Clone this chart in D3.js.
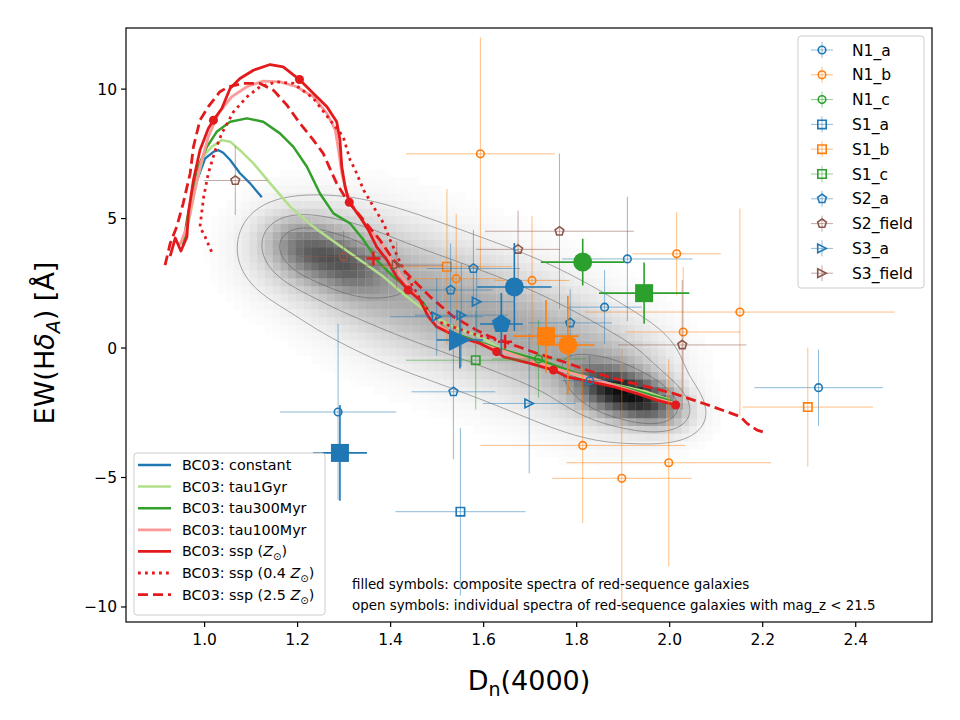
<!DOCTYPE html>
<html><head><meta charset="utf-8">
<script src="https://cdn.jsdelivr.net/npm/d3@7"></script>
<style>body{margin:0;background:#fff} svg{display:block} text{font-family:"DejaVu Sans",sans-serif}</style>
</head><body><svg id="c" width="960" height="720"></svg>
<script>
// ---------------- DATA ----------------
const xTicks = [1.0, 1.2, 1.4, 1.6, 1.8, 2.0, 2.2, 2.4];
const yTicks = [-10, -5, 0, 5, 10];

// BC03 model tracks (Dn4000, EW(HdA))
const constD = [0.954,0.965,0.980,1.001,1.019,1.030,1.040,1.055,1.076,1.098,1.123];
const constEW = [3.98,4.94,6.29,7.32,7.58,7.64,7.54,7.26,6.75,6.36,5.82];
const tau1D = [0.954,0.969,0.984,0.997,1.015,1.037,1.055,1.076,1.105,1.141,1.184,1.234,1.284,1.334,1.385,1.435,1.492,1.535,1.592,1.643,1.714,1.779,1.829,1.886,1.951,2.001];
const tau1EW = [3.98,5.14,6.49,7.39,7.77,8.03,7.97,7.64,7.13,6.36,5.46,4.68,4.04,3.40,2.75,1.98,1.21,0.82,0.44,-0.08,-0.40,-0.92,-1.24,-1.43,-1.69,-2.01];
const tau300D = [0.954,0.962,0.983,1.005,1.026,1.055,1.091,1.126,1.162,1.191,1.220,1.248,1.277,1.313,1.342,1.370,1.406,1.442,1.471,1.492,1.528,1.592,1.635,1.721,1.829,1.937,2.005];
const tau300EW = [3.98,4.94,6.87,7.77,8.35,8.74,8.87,8.74,8.29,7.77,7.00,5.97,5.20,4.81,4.17,3.40,2.75,2.24,1.73,1.08,0.62,0.23,-0.04,-0.46,-1.16,-1.70,-2.05];
const tau100D = [0.947,0.962,0.976,0.990,1.008,1.030,1.058,1.091,1.126,1.162,1.198,1.234,1.263,1.281,1.288,1.295,1.306,1.327,1.356,1.385,1.413,1.442,1.481,1.506,1.549,1.635,1.749,1.851,1.958,2.005];
const tau100EW = [3.98,4.68,5.84,7.00,8.16,9.06,9.70,10.09,10.31,10.28,10.09,9.70,9.06,8.42,7.64,6.75,5.97,5.20,4.56,3.91,3.01,2.32,1.35,0.85,0.42,-0.08,-0.77,-1.27,-1.89,-2.12];
const sspD = [0.926,0.937,0.949,0.962,0.965,0.976,0.990,1.008,1.019,1.037,1.055,1.076,1.105,1.141,1.169,1.204,1.234,1.263,1.284,1.291,1.295,1.302,1.311,1.334,1.352,1.370,1.392,1.413,1.438,1.463,1.481,1.499,1.535,1.592,1.628,1.643,1.700,1.750,1.779,1.829,1.879,1.929,1.972,2.013];
const sspEW = [3.55,4.25,3.75,4.29,5.20,6.49,7.64,8.48,8.80,9.25,10.03,10.41,10.73,10.95,10.86,10.37,9.83,9.32,8.74,8.03,7.00,6.23,5.63,5.07,4.56,3.91,3.40,2.75,2.24,1.85,1.21,0.82,0.50,0.18,-0.14,-0.34,-0.59,-0.85,-1.11,-1.30,-1.49,-1.75,-2.01,-2.20];
const sspAgeD = [1.019,1.204,1.311,1.438,1.628,1.750,2.013];
const sspAgeEW = [8.80,10.37,5.63,2.24,-0.14,-0.85,-2.20];
const ssp04D = [1.015,1.001,0.990,0.998,1.008,1.023,1.037,1.062,1.091,1.119,1.155,1.191,1.234,1.270,1.298,1.313,1.324,1.342,1.363,1.385,1.399,1.420,1.446,1.471,1.506,1.571,1.646];
const ssp04EW = [3.72,4.30,4.68,5.84,6.75,7.64,8.29,9.12,9.70,10.09,10.28,10.22,9.64,8.80,8.16,7.26,6.87,6.10,5.46,4.81,4.17,3.32,2.43,1.66,1.00,0.58,0.23];
const ssp04AgeD = [1.363,1.646];
const ssp04AgeEW = [3.46,0.24];
const ssp25D = [0.915,0.926,0.940,0.954,0.969,0.976,0.990,1.008,1.033,1.051,1.083,1.119,1.148,1.177,1.205,1.234,1.255,1.274,1.284,1.306,1.342,1.377,1.406,1.442,1.485,1.535,1.585,1.614,1.664,1.714,1.772,1.822,1.879,1.951,2.008,2.073,2.123,2.152,2.166,2.188,2.209];
const ssp25EW = [3.20,4.04,4.68,5.59,6.75,7.77,8.80,9.32,9.90,10.09,10.22,10.22,9.96,9.38,8.68,8.03,7.52,6.75,6.36,5.71,4.94,4.17,3.40,2.75,1.98,1.21,0.69,0.44,0.12,-0.20,-0.53,-0.85,-1.17,-1.49,-1.75,-2.14,-2.46,-2.65,-2.91,-3.17,-3.29];

// individual galaxies (open symbols)
const N1a_D = [1.287,1.909,1.860,1.828,2.320];
const N1a_EW = [-2.47,3.44,1.58,-1.26,-1.53];
const N1a_xe = [0.125,0.14,0.08,0.06,0.138];
const N1a_ye = [3.4,2.4,1.43,1.0,1.47];
const N1b_D = [1.593,2.015,2.151,2.029,1.704,1.541,1.813,1.998,1.897];
const N1b_EW = [7.50,3.64,1.39,0.62,2.61,2.68,-3.76,-4.43,-5.03];
const N1b_xe = [0.16,0.095,0.333,0.123,0.08,0.1,0.22,0.22,0.15];
const N1b_ye = [4.5,1.6,4.0,2.5,2.5,2.5,3.0,4.0,5.0];
const N1c_D = [1.718], N1c_EW = [-0.42], N1c_xe = [0.1], N1c_ye = [1.5];
const S1a_D = [1.550], S1a_EW = [-6.32], S1a_xe = [0.14], S1a_ye = [3.24];
const S1b_D = [1.521,2.297], S1b_EW = [3.14,-2.28], S1b_xe = [0.14,0.14], S1b_ye = [3.0,2.3];
const S1c_D = [1.583], S1c_EW = [-0.47], S1c_xe = [0.15], S1c_ye = [1.9];
const S2a_D = [1.578,1.529,1.786,1.535];
const S2a_EW = [3.07,2.24,0.97,-1.69];
const S2a_xe = [0.1,0.09,0.09,0.09];
const S2a_ye = [1.5,1.8,1.3,2.6];
const S2f_D = [1.066,1.299,1.674,1.763,2.027];
const S2f_EW = [6.47,3.53,3.81,4.51,0.12];
const S2f_xe = [0.068,0.092,0.09,0.16,0.138];
const S2f_ye = [1.33,1.0,1.5,3.0,2.5];
const S3a_D = [1.499,1.552,1.585,1.698];
const S3a_EW = [1.21,1.27,1.79,-2.14];
const S3a_xe = [0.1,0.1,0.08,0.1];
const S3a_ye = [1.5,2.0,1.2,2.7];
const S3f_D = [1.413], S3f_EW = [3.20], S3f_xe = [0.1], S3f_ye = [0.9];

// composite spectra (filled symbols)
const compSeries = ["N1_a","N1_b","N1_c","S1_a","S1_b","S1_c","S2_a","S3_a"];
const compD = [1.666,1.781,1.813,1.291,1.734,1.945,1.638,1.549];
const compEW = [2.36,0.12,3.32,-4.05,0.46,2.12,0.93,0.31];
const compXe = [0.08,0.057,0.09,0.058,0.07,0.097,0.046,0.05];
const compYe = [1.7,1.9,0.9,1.85,1.4,1.18,1.2,1.1];

// SDSS background density, described by components
const densD   = [1.20,1.30,1.40,1.50,1.60,1.70,1.80,1.90, 1.22,1.31, 1.87,1.95];
const densEW  = [3.80,3.15,2.45,1.80,1.15,0.45,-0.40,-1.20, 3.80,3.20, -1.60,-2.05];
const densSD  = [0.07,0.07,0.07,0.07,0.07,0.07,0.07,0.07, 0.05,0.05, 0.05,0.05];
const densSE  = [1.05,1.3,1.4,1.4,1.4,1.4,1.35,1.2, 0.7,0.7, 0.6,0.6];
const densRho = [0,0,0,0,0,0,0,0, -0.3,-0.3, -0.3,-0.3];
const densW   = [0.16,0.17,0.17,0.17,0.17,0.17,0.17,0.17, 0.30,0.30, 0.55,0.60];
const contourLevels = [0.03,0.13,0.30];

const seriesNames = ["N1_a","N1_b","N1_c","S1_a","S1_b","S1_c","S2_a","S2_field","S3_a","S3_field"];
const modelNames = ["BC03: constant","BC03: tau1Gyr","BC03: tau300Myr","BC03: tau100Myr","BC03: ssp (Z⊙)","BC03: ssp (0.4 Z⊙)","BC03: ssp (2.5 Z⊙)"];

// ---------------- STYLE ----------------
const seriesStyle = {
  "N1_a":{c:"#1f77b4",m:"circle"}, "N1_b":{c:"#ff7f0e",m:"circle"}, "N1_c":{c:"#2ca02c",m:"circle"},
  "S1_a":{c:"#1f77b4",m:"square"}, "S1_b":{c:"#ff7f0e",m:"square"}, "S1_c":{c:"#2ca02c",m:"square"},
  "S2_a":{c:"#1f77b4",m:"pentagon"}, "S2_field":{c:"#8c564b",m:"pentagon"},
  "S3_a":{c:"#1f77b4",m:"triangle"}, "S3_field":{c:"#8c564b",m:"triangle"}
};
const seriesData = {
  "N1_a":[N1a_D,N1a_EW,N1a_xe,N1a_ye], "N1_b":[N1b_D,N1b_EW,N1b_xe,N1b_ye], "N1_c":[N1c_D,N1c_EW,N1c_xe,N1c_ye],
  "S1_a":[S1a_D,S1a_EW,S1a_xe,S1a_ye], "S1_b":[S1b_D,S1b_EW,S1b_xe,S1b_ye], "S1_c":[S1c_D,S1c_EW,S1c_xe,S1c_ye],
  "S2_a":[S2a_D,S2a_EW,S2a_xe,S2a_ye], "S2_field":[S2f_D,S2f_EW,S2f_xe,S2f_ye],
  "S3_a":[S3a_D,S3a_EW,S3a_xe,S3a_ye], "S3_field":[S3f_D,S3f_EW,S3f_xe,S3f_ye]
};
const models = [
  {D:constD,E:constEW,c:"#1f78b4",w:2.3,dash:null},
  {D:tau1D,E:tau1EW,c:"#b2df8a",w:2.5,dash:null},
  {D:tau300D,E:tau300EW,c:"#33a02c",w:2.5,dash:null},
  {D:tau100D,E:tau100EW,c:"#fb9a99",w:2.8,dash:null},
  {D:sspD,E:sspEW,c:"#e31a1c",w:2.8,dash:null},
  {D:ssp04D,E:ssp04EW,c:"#e31a1c",w:2.8,dash:"2.8,4.2"},
  {D:ssp25D,E:ssp25EW,c:"#e31a1c",w:2.8,dash:"10,5"}
];

// ---------------- LAYOUT ----------------
const L=126,R=932,T=28,B=622;
const x = d3.scaleLinear().domain([0.831,2.564]).range([L,R]);
const y = d3.scaleLinear().domain([-10.58,12.36]).range([B,T]);
const svg = d3.select("#c");
svg.append("defs").append("clipPath").attr("id","clip").append("rect").attr("x",L).attr("y",T).attr("width",R-L).attr("height",B-T);
const plot = svg.append("g").attr("clip-path","url(#clip)");

// density
function dens(D,E){
  let s=0;
  for(let k=0;k<densD.length;k++){
    const zx=(D-densD[k])/densSD[k], zy=(E-densEW[k])/densSE[k], r=densRho[k];
    s+=densW[k]*Math.exp(-0.5*(zx*zx-2*r*zx*zy+zy*zy)/(1-r*r));
  }
  return s;
}
const binD=0.0166, binE=0.3;
const cells=[];
let vmax=0;
for(let D=0.98; D<2.3; D+=binD){
  for(let E=-6; E<8; E+=binE){
    const v=dens(D+binD/2,E+binE/2);
    cells.push({D,E,v}); if(v>vmax) vmax=v;
  }
}
plot.append("g").selectAll("rect").data(cells.filter(c=>c.v/vmax>0.003)).join("rect")
  .attr("x",d=>x(d.D)).attr("y",d=>y(d.E+binE))
  .attr("width",d=>x(d.D+binD)-x(d.D)+0.3).attr("height",d=>y(d.E)-y(d.E+binE)+0.3)
  .attr("fill",d=>{const t=Math.pow(d.v/vmax,0.8); const g=Math.round(255*(1-0.95*t)); return `rgb(${g},${g},${g})`;});

// contours
const step=2, nx=Math.ceil((R-L)/step), ny=Math.ceil((B-T)/step);
const grid=new Float64Array(nx*ny);
for(let j=0;j<ny;j++) for(let i=0;i<nx;i++) grid[j*nx+i]=dens(x.invert(L+i*step),y.invert(T+j*step))/vmax;
const cont=d3.contours().size([nx,ny]).thresholds(contourLevels)(grid);
const proj=d3.geoTransform({point(px,py){this.stream.point(L+px*step,T+py*step);}});
plot.append("g").selectAll("path").data(cont).join("path").attr("d",d3.geoPath(proj))
  .attr("fill","none").attr("stroke","#555").attr("stroke-width",0.6).attr("stroke-opacity",0.85);

// model curves
models.forEach(m=>{
  const pts=m.D.map((d,i)=>[d,m.E[i]]);
  plot.append("path").datum(pts).attr("d",d3.line().x(d=>x(d[0])).y(d=>y(d[1])))
    .attr("fill","none").attr("stroke",m.c).attr("stroke-width",m.w).attr("stroke-linejoin","round")
    .attr("stroke-dasharray",m.dash);
});
plot.append("g").selectAll("circle").data(sspAgeD.map((d,i)=>[d,sspAgeEW[i]])).join("circle")
  .attr("cx",d=>x(d[0])).attr("cy",d=>y(d[1])).attr("r",4.5).attr("fill","#e31a1c");
ssp04AgeD.forEach((d,i)=>{
  const cx=x(d), cy=y(ssp04AgeEW[i]);
  plot.append("path").attr("d",`M${cx-7},${cy}H${cx+7}M${cx},${cy-7}V${cy+7}`).attr("stroke","#e31a1c").attr("stroke-width",2.5);
});

// markers
function markerPath(type,r){
  if(type==="circle") return `M${r},0A${r},${r} 0 1,1 ${-r},0A${r},${r} 0 1,1 ${r},0Z`;
  if(type==="square") return `M${-r},${-r}H${r}V${r}H${-r}Z`;
  if(type==="pentagon"){ let p=""; for(let k=0;k<5;k++){const a=(-90+72*k)*Math.PI/180; p+=(k?"L":"M")+(r*Math.cos(a)).toFixed(2)+","+(r*Math.sin(a)).toFixed(2);} return p+"Z"; }
  if(type==="triangle") return `M${r},0L${-r},${-r}L${-r},${r}Z`;
}
const openR={circle:3.8,square:4.2,pentagon:4.6,triangle:4.3};
const fillR={circle:9.5,square:9,pentagon:10,triangle:11};

seriesNames.forEach(name=>{
  const st=seriesStyle[name], [Ds,Es,xe,ye]=seriesData[name];
  const g=plot.append("g");
  Ds.forEach((d,i)=>{
    const cx=x(d), cy=y(Es[i]);
    g.append("path").attr("d",`M${x(d-xe[i])},${cy}H${x(d+xe[i])}M${cx},${y(Es[i]+ye[i])}V${y(Es[i]-ye[i])}`)
      .attr("stroke",st.c).attr("stroke-width",1).attr("stroke-opacity",0.5);
  });
  Ds.forEach((d,i)=>{
    g.append("path").attr("d",markerPath(st.m,openR[st.m])).attr("transform",`translate(${x(d)},${y(Es[i])})`)
      .attr("fill","none").attr("stroke",st.c).attr("stroke-width",1.6);
  });
});
compSeries.forEach((name,i)=>{
  const st=seriesStyle[name], cx=x(compD[i]), cy=y(compEW[i]);
  plot.append("path").attr("d",`M${x(compD[i]-compXe[i])},${cy}H${x(compD[i]+compXe[i])}M${cx},${y(compEW[i]+compYe[i])}V${y(compEW[i]-compYe[i])}`)
    .attr("stroke",st.c).attr("stroke-width",1.6);
  plot.append("path").attr("d",markerPath(st.m,fillR[st.m])).attr("transform",`translate(${cx},${cy})`).attr("fill",st.c);
});

// axes
svg.append("rect").attr("x",L).attr("y",T).attr("width",R-L).attr("height",B-T).attr("fill","none").attr("stroke","#000").attr("stroke-width",1.2);
xTicks.forEach(t=>{
  svg.append("line").attr("x1",x(t)).attr("x2",x(t)).attr("y1",B).attr("y2",B+5).attr("stroke","#000").attr("stroke-width",1.2);
  svg.append("text").attr("x",x(t)).attr("y",B+23).attr("text-anchor","middle").attr("font-size",15.5).text(t.toFixed(1));
});
yTicks.forEach(t=>{
  svg.append("line").attr("x1",L-5).attr("x2",L).attr("y1",y(t)).attr("y2",y(t)).attr("stroke","#000").attr("stroke-width",1.2);
  svg.append("text").attr("x",L-9).attr("y",y(t)+5.5).attr("text-anchor","end").attr("font-size",15.5).text(t<0?"\u2212"+Math.abs(t):t);
});
const xl=svg.append("text").attr("x",(L+R)/2).attr("y",690).attr("text-anchor","middle").attr("font-size",27);
xl.append("tspan").text("D");
xl.append("tspan").attr("dy",6).attr("font-size",19).text("n");
xl.append("tspan").attr("dy",-6).text("(4000)");
const yl=svg.append("text").attr("transform",`translate(54,343) rotate(-90)`).attr("text-anchor","middle").attr("font-size",27);
yl.append("tspan").text("EW(H");
yl.append("tspan").attr("font-style","italic").text("δ");
yl.append("tspan").attr("font-style","italic").attr("font-size",19).attr("dy",6).text("A");
yl.append("tspan").attr("dy",-6).text(") [Å]");

// annotation
svg.append("text").attr("x",352).attr("y",589).attr("font-size",13.4).text("filled symbols: composite spectra of red-sequence galaxies");
svg.append("text").attr("x",352).attr("y",610).attr("font-size",13.4).text("open symbols: individual spectra of red-sequence galaxies with mag_z < 21.5");

// legend top-right
const lg1=svg.append("g");
lg1.append("rect").attr("x",798).attr("y",36).attr("width",126).attr("height",252).attr("rx",3).attr("fill","#fff").attr("fill-opacity",0.8).attr("stroke","#ccc");
seriesNames.forEach((name,i)=>{
  const st=seriesStyle[name], cy=50+i*24.8, cx=822;
  lg1.append("path").attr("d",`M${cx-11},${cy}H${cx+11}M${cx},${cy-8}V${cy+8}`).attr("stroke",st.c).attr("stroke-width",1).attr("stroke-opacity",0.5);
  lg1.append("path").attr("d",markerPath(st.m,openR[st.m])).attr("transform",`translate(${cx},${cy})`).attr("fill","none").attr("stroke",st.c).attr("stroke-width",1.6);
  lg1.append("text").attr("x",852).attr("y",cy+5.5).attr("font-size",15.5).text(name);
});

// legend bottom-left
const lg2=svg.append("g");
lg2.append("rect").attr("x",134).attr("y",453).attr("width",191).attr("height",162).attr("rx",3).attr("fill","#fff").attr("fill-opacity",0.8).attr("stroke","#ccc");
models.forEach((m,i)=>{
  const cy=465+i*21.6;
  lg2.append("line").attr("x1",138).attr("x2",171).attr("y1",cy).attr("y2",cy).attr("stroke",m.c).attr("stroke-width",m.w).attr("stroke-dasharray",m.dash);
  const t=lg2.append("text").attr("x",182).attr("y",cy+5).attr("font-size",14.3);
  const nm=modelNames[i];
  if(nm.includes("Z⊙")){
    const pre=nm.split("Z⊙")[0];
    t.append("tspan").text(pre);
    t.append("tspan").attr("font-style","italic").text("Z");
    t.append("tspan").attr("font-size",10).attr("dy",4).text("⊙");
    t.append("tspan").attr("dy",-4).text(")");
  } else t.text(nm);
});
</script></body></html>
